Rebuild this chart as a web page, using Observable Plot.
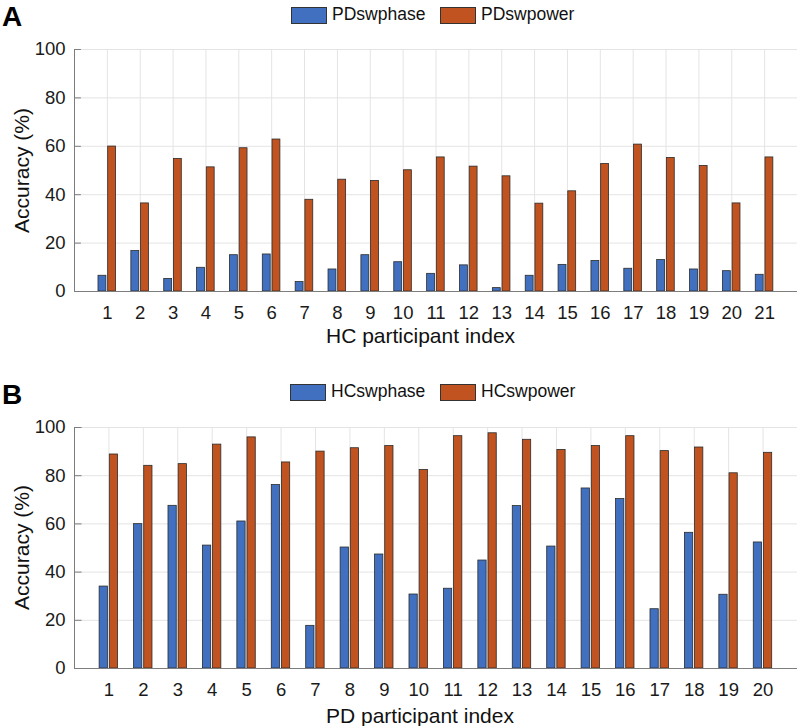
<!DOCTYPE html>
<html>
<head>
<meta charset="utf-8">
<script src="https://cdn.jsdelivr.net/npm/d3@7"></script>
<script src="https://cdn.jsdelivr.net/npm/@observablehq/plot@0.6"></script>
<style>
  body { margin: 0; background: #fff; }
  #fig { position: relative; width: 800px; height: 726px; overflow: hidden;
         font-family: "Liberation Sans", Arial, Helvetica, sans-serif; color: #1a1a1a; }
  .abs { position: absolute; white-space: nowrap; }
  .letter { font-family: "Liberation Sans", Arial, sans-serif;
            font-weight: bold; font-size: 28px; line-height: 32px; color: #000; }
  .legtext { font-size: 17.5px; line-height: 17.5px; color: #111; }
  .swatch { width: 36px; height: 17px; box-sizing: border-box; border: 1px solid #333; }
  .xtitle { font-size: 21px; line-height: 21px; color: #111; }
  .ytitle { font-size: 21px; line-height: 21px; width: 300px; text-align: center; color: #111;
            transform: rotate(-90deg); }
</style>
</head>
<body>
<div id="fig"></div>
<script>
// ---------- data ----------
const hcIndex = [1,2,3,4,5,6,7,8,9,10,11,12,13,14,15,16,17,18,19,20,21];
const pdSwPhase = [6.5,16.7,5.2,9.8,15.0,15.3,3.9,9.1,15.0,12.1,7.3,10.8,1.4,6.5,11.0,12.6,9.4,13.0,9.1,8.4,6.9];
const pdSwPower = [59.9,36.4,54.8,51.3,59.2,62.8,37.9,46.2,45.7,50.1,55.4,51.6,47.6,36.3,41.4,52.7,60.7,55.2,51.9,36.4,55.4];

const pdIndex = [1,2,3,4,5,6,7,8,9,10,11,12,13,14,15,16,17,18,19,20];
const hcSwPhase = [34.0,59.9,67.5,51.0,61.0,76.1,17.7,50.2,47.3,30.7,33.1,44.8,67.4,50.6,74.7,70.3,24.6,56.3,30.6,52.3];
const hcSwPower = [88.8,84.1,84.8,92.9,95.9,85.5,90.0,91.4,92.3,82.4,96.4,97.6,94.9,90.7,92.3,96.4,90.2,91.7,81.0,89.5];

const yTicks = [0,20,40,60,80,100];
const seriesA = ["PDswphase","PDswpower"];
const seriesB = ["HCswphase","HCswpower"];
const colors = ["#4070BF","#C0531F"];

// ---------- helpers ----------
const fig = document.getElementById("fig");
function addDiv(cls, text, left, top, extra) {
  const d = document.createElement("div");
  d.className = "abs " + cls;
  if (text != null) d.textContent = text;
  d.style.left = left + "px";
  d.style.top = top + "px";
  if (extra) Object.assign(d.style, extra);
  fig.appendChild(d);
  return d;
}

function panel(idx, a, b, top, innerH) {
  const n = idx.length;
  const rows = [];
  idx.forEach((k, i) => {
    rows.push({k, v: a[i], s: 0});
    rows.push({k, v: b[i], s: 1});
  });
  const off = [-0.15, 0.145], hw = 0.12;
  const tickLen = 0.21 * 22 / (n + 1);
  const p = Plot.plot({
    width: 800,
    height: 19 + innerH + 40,
    marginLeft: 74, marginRight: 3, marginTop: 19, marginBottom: 40,
    style: {fontFamily: '"Liberation Sans", Arial, Helvetica, sans-serif', fontSize: "18px", color: "#1a1a1a", background: "#fff"},
    x: {domain: [0, n + 1], axis: null},
    y: {domain: [0, 100], axis: null},
    marks: [
      Plot.ruleX(idx, {x: d => d, y1: 0, y2: 100, stroke: "#e4e4e4", strokeWidth: 1}),
      Plot.ruleY(yTicks.filter(t => t > 0), {y: d => d, x1: 0, x2: n + 1, stroke: "#e4e4e4", strokeWidth: 1}),
      Plot.rectY(rows, {
        x1: d => d.k + off[d.s] - hw, x2: d => d.k + off[d.s] + hw,
        y1: 0, y2: "v",
        fill: d => colors[d.s], stroke: "#2b2b2b", strokeWidth: 0.8, inset: 0
      }),
      Plot.ruleX([0], {y1: 0, y2: 100, stroke: "#7d7d7d", strokeWidth: 1}),
      Plot.ruleY([0], {x1: 0, x2: n + 1, stroke: "#7d7d7d", strokeWidth: 1}),
      Plot.ruleY(yTicks, {y: d => d, x1: 0, x2: tickLen, stroke: "#7d7d7d", strokeWidth: 1}),
      Plot.axisY(yTicks, {tickSize: 0, tickPadding: 9, label: null, fontSize: 18.5, fill: "#1a1a1a"}),
      Plot.axisX(idx, {tickSize: 0, tickPadding: 14, label: null, fontSize: 18.5, fill: "#1a1a1a"})
    ]
  });
  p.style.position = "absolute";
  p.style.left = "0px";
  p.style.top = top + "px";
  fig.appendChild(p);
}

// ---------- panel A ----------
panel(hcIndex, pdSwPhase, pdSwPower, 30, 242);
addDiv("letter", "A", 2, 1);
addDiv("swatch", null, 291, 7, {background: colors[0]});
addDiv("legtext", seriesA[0], 332, 6);
addDiv("swatch", null, 440, 7, {background: colors[1]});
addDiv("legtext", seriesA[1], 481, 6);
addDiv("xtitle", "HC participant index", 326, 325);
addDiv("ytitle", "Accuracy (%)", 20.5 - 150, 170 - 10.5);

// ---------- panel B ----------
panel(pdIndex, hcSwPhase, hcSwPower, 408, 241);
addDiv("letter", "B", 2, 379);
addDiv("swatch", null, 290, 384, {background: colors[0]});
addDiv("legtext", seriesB[0], 331, 383);
addDiv("swatch", null, 440, 384, {background: colors[1]});
addDiv("legtext", seriesB[1], 481, 383);
addDiv("xtitle", "PD participant index", 326, 705);
addDiv("ytitle", "Accuracy (%)", 20.5 - 150, 547.5 - 10.5);
</script>
</body>
</html>
